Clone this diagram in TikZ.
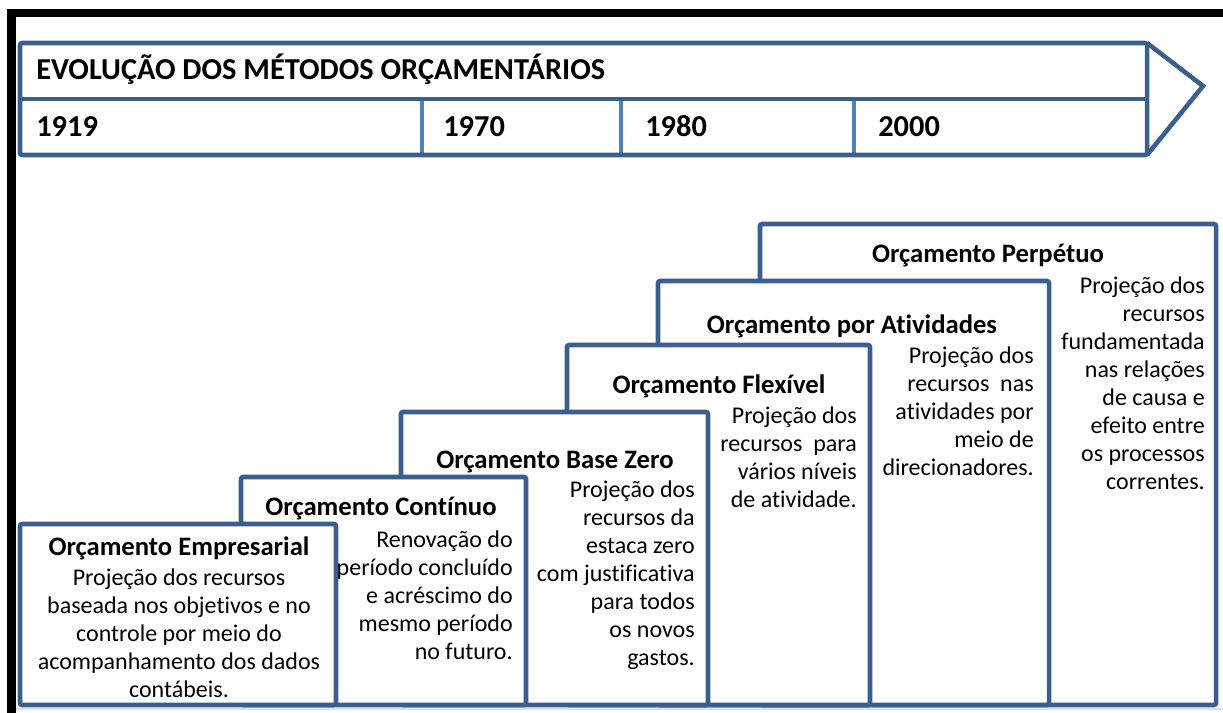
\documentclass[tikz,border=0pt]{standalone}
\usepackage{fontspec}
\setmainfont{Carlito}[Ligatures=NoCommon]
\definecolor{edge}{HTML}{3A5F8E}
\definecolor{tick}{HTML}{4F81BD}
\newcommand\firststrut{\rule{0pt}{15pt}}
\begin{document}
\begin{tikzpicture}[x=0.75pt,y=-0.75pt,
  stepbox/.style={draw=edge, line width=3.4pt, fill=white, rounded corners=1.5pt},
  ttl/.style={font=\fontsize{20}{24}\selectfont\bfseries, anchor=base, inner sep=0pt},
  bodyr/.style={font=\fontsize{18}{21}\selectfont, align=right, anchor=north east, inner sep=0pt},
  bodyc/.style={font=\fontsize{18}{21}\selectfont, align=center, anchor=north, inner sep=0pt},
  hdr/.style={font=\fontsize{22.8}{27}\selectfont\bfseries, anchor=base west, inner sep=0pt},
  hline/.style={draw=edge, line width=3.4pt},
  divline/.style={draw=tick, line width=2.4pt}]
\useasboundingbox (0,0) rectangle (1223,713);
% frame
\fill[black] (7,9) rectangle (1223,17);
\fill[black] (7,9) rectangle (16,713);
\draw[black!12, line width=1.5pt] (16,709) -- (1223,709);
% header arrow
\draw[divline] (422,99) -- (422,155);
\draw[divline] (621,99) -- (621,155);
\draw[divline] (854,99) -- (854,155);
\draw[hline, rounded corners=1.5pt] (20,43) rectangle (1147,155);
\draw[hline] (20,99) -- (1147,99);
\draw[hline, line join=miter] (1147,43) -- (1203,86) -- (1147,155);
\node[hdr] (head) at (36,80) {EVOLUÇÃO DOS MÉTODOS ORÇAMENTÁRIOS};
\node[hdr] (y1919) at (36,137) {1919};
\node[hdr] (y1970) at (443,137) {1970};
\node[hdr] (y1980) at (645,137) {1980};
\node[hdr] (y2000) at (878,137) {2000};
% step boxes (back to front)
\draw[stepbox] (760,224) rectangle (1216,705);
\draw[stepbox] (658,281) rectangle (1049,705);
\draw[stepbox] (567,345) rectangle (870,705);
\draw[stepbox] (401,412) rectangle (708,705);
\draw[stepbox] (241,477) rectangle (526,705);
\draw[stepbox] (20,524) rectangle (336,705);
% box 6
\node[ttl] (t6) at (988,262) {Orçamento Perpétuo};
\node[bodyr] (b6) at (1205,273) {\firststrut Projeção dos\\recursos\\fundamentada\\nas relações\\de causa e\\efeito entre\\os processos\\correntes.};
% box 5
\node[ttl] (t5) at (852,333) {Orçamento por Atividades};
\node[bodyr] (b5) at (1034,343) {\firststrut Projeção dos\\recursos~ nas\\atividades por\\meio de\\direcionadores.};
% box 4
\node[ttl] (t4) at (719,393) {Orçamento Flexível};
\node[bodyr] (b4) at (857,403) {\firststrut Projeção dos\\recursos~ para\\vários níveis\\de atividade.};
% box 3
\node[ttl] (t3) at (555,468) {Orçamento Base Zero};
\node[bodyr] (b3) at (695,477) {\firststrut Projeção dos\\recursos da\\estaca zero\\com justificativa\\para todos\\os novos\\gastos.};
% box 2
\node[ttl] (t2) at (381,515) {Orçamento Contínuo};
\node[bodyr] (b2) at (513,527) {\firststrut Renovação do\\período concluído\\e acréscimo do\\mesmo período\\no futuro.};
% box 1
\node[ttl] (t1) at (179,555) {Orçamento Empresarial};
\node[bodyc] (b1) at (179,565) {\firststrut Projeção dos recursos\\baseada nos objetivos e no\\controle por meio do\\acompanhamento dos dados\\contábeis.};
\end{tikzpicture}
\end{document}
